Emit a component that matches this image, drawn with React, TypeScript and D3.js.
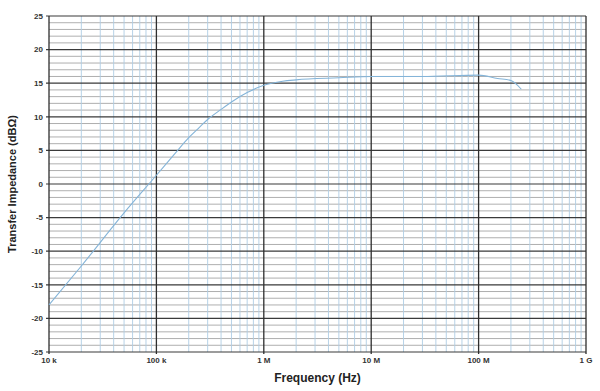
import React, { useEffect, useRef } from 'react';
import * as d3 from 'd3';

// (Hz, dBΩ)
const freqs = [1e4, 2e4, 5e4, 1e5, 1.5e5, 2e5, 2.5e5, 3e5, 4e5, 5e5, 7e5, 1e6, 1.5e6, 2e6, 5e6, 1e7, 3e7, 1e8, 1.5e8, 2e8, 2.5e8];
const impedance = [-18, -12.2, -4.3, 1.3, 4.6, 6.9, 8.4, 9.6, 11.1, 12.2, 13.6, 14.7, 15.3, 15.5, 15.8, 16.0, 16.0, 16.2, 15.7, 15.4, 14.1];

const xTicks = [1e4, 1e5, 1e6, 1e7, 1e8, 1e9];
const xTickLabels = ['10 k', '100 k', '1 M', '10 M', '100 M', '1 G'];
const yTicks = [-25, -20, -15, -10, -5, 0, 5, 10, 15, 20, 25];

const W = 600;
const H = 391;
const margin = { top: 16, right: 14, bottom: 39, left: 49 };

const App = () => {
  const svgRef = useRef<SVGSVGElement>(null);

  useEffect(() => {
    const svg = d3.select(svgRef.current);
    svg.selectAll('*').remove();

    const x = d3.scaleLog().domain([1e4, 1e9]).range([margin.left, W - margin.right]);
    const y = d3.scaleLinear().domain([-25, 25]).range([H - margin.bottom, margin.top]);
    const [x0, x1] = x.range();
    const [yb, yt] = y.range();

    const grid = svg.append('g');

    // minor horizontal lines, every 1 dB
    grid
      .selectAll('.hmin')
      .data(d3.range(-25, 26).filter((v) => v % 5 !== 0))
      .join('line')
      .attr('x1', x0)
      .attr('x2', x1)
      .attr('y1', (d) => y(d))
      .attr('y2', (d) => y(d))
      .attr('stroke', '#a6a6a6')
      .attr('stroke-width', 0.9);

    // minor vertical lines, 2..9 per decade
    const minorX: number[] = [];
    for (let dec = 1e4; dec < 1e9; dec *= 10) {
      for (let m = 2; m <= 9; m++) minorX.push(dec * m);
    }
    grid
      .selectAll('.vmin')
      .data(minorX)
      .join('line')
      .attr('x1', (d) => x(d))
      .attr('x2', (d) => x(d))
      .attr('y1', yt)
      .attr('y2', yb)
      .attr('stroke', '#afcde4')
      .attr('stroke-width', 0.9);

    // major lines
    grid
      .selectAll('.hmaj')
      .data(yTicks)
      .join('line')
      .attr('x1', x0 - 3)
      .attr('x2', x1)
      .attr('y1', (d) => y(d))
      .attr('y2', (d) => y(d))
      .attr('stroke', '#3a3a3a')
      .attr('stroke-width', 1.2);

    grid
      .selectAll('.vmaj')
      .data(xTicks)
      .join('line')
      .attr('x1', (d) => x(d))
      .attr('x2', (d) => x(d))
      .attr('y1', yt)
      .attr('y2', yb + 2)
      .attr('stroke', '#2e2e2e')
      .attr('stroke-width', 1.3);

    // curve
    const line = d3
      .line<number>()
      .x((_, i) => x(freqs[i]))
      .y((d) => y(d))
      .curve(d3.curveMonotoneX);

    svg
      .append('path')
      .datum(impedance)
      .attr('d', line)
      .attr('fill', 'none')
      .attr('stroke', '#84b4d8')
      .attr('stroke-width', 1.1);

    // tick labels
    svg
      .append('g')
      .selectAll('text')
      .data(yTicks)
      .join('text')
      .attr('x', x0 - 6)
      .attr('y', (d) => y(d))
      .attr('dy', '0.35em')
      .attr('text-anchor', 'end')
      .attr('font-family', 'Liberation Sans, Arial, sans-serif')
      .attr('font-size', 8)
      .attr('font-weight', 'bold')
      .attr('fill', '#333')
      .text((d) => d);

    svg
      .append('g')
      .selectAll('text')
      .data(xTicks)
      .join('text')
      .attr('x', (d) => x(d))
      .attr('y', yb + 11)
      .attr('text-anchor', 'middle')
      .attr('font-family', 'Liberation Sans, Arial, sans-serif')
      .attr('font-size', 8)
      .attr('font-weight', 'bold')
      .attr('fill', '#333')
      .text((_, i) => xTickLabels[i]);

    // titles
    svg
      .append('text')
      .attr('x', (x0 + x1) / 2)
      .attr('y', 382)
      .attr('text-anchor', 'middle')
      .attr('font-family', 'Liberation Sans, Arial, sans-serif')
      .attr('font-size', 12)
      .attr('font-weight', 'bold')
      .attr('fill', '#222')
      .text('Frequency (Hz)');

    svg
      .append('text')
      .attr('transform', `translate(16, ${(yt + yb) / 2}) rotate(-90)`)
      .attr('text-anchor', 'middle')
      .attr('font-family', 'Liberation Sans, Arial, sans-serif')
      .attr('font-size', 11)
      .attr('font-weight', 'bold')
      .attr('fill', '#222')
      .text('Transfer Impedance (dBΩ)');
  }, []);

  return (
    <svg
      ref={svgRef}
      width={W}
      height={H}
      style={{ position: 'absolute', left: 0, top: 0, background: '#fff' }}
    />
  );
};

export default App;
